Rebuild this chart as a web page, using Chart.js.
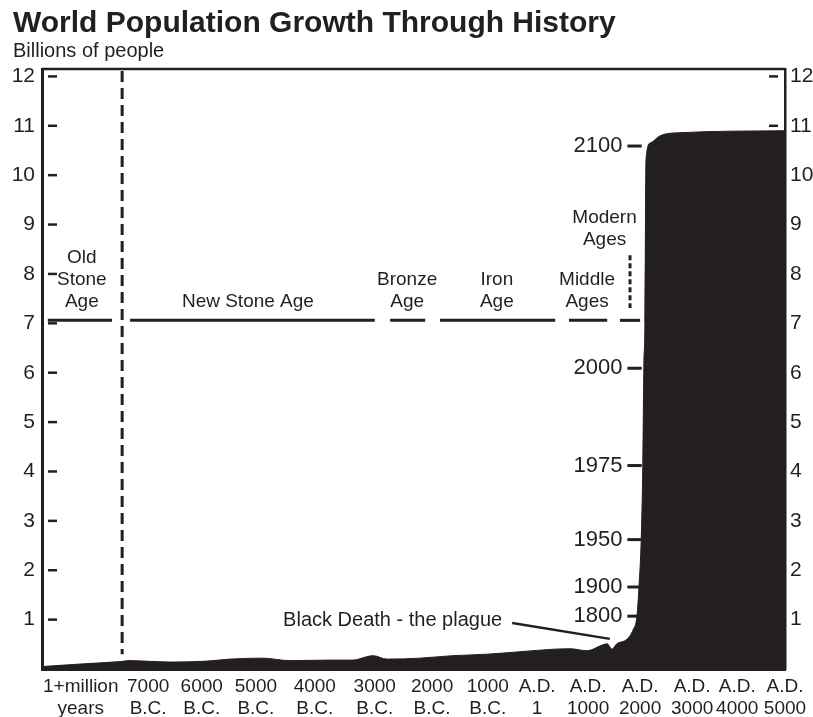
<!DOCTYPE html>
<html>
<head>
<meta charset="utf-8">
<script src="https://cdn.jsdelivr.net/npm/chart.js@4/dist/chart.umd.min.js"></script>
<style>
  body { margin: 0; background: #fff; }
  canvas { display: block; }
</style>
</head>
<body>
<canvas id="myChart" width="813" height="717"></canvas>
<script>
// x axis runs on an "era scale" (not proportional to years), labels sit at tickPos
const tickLabels = [
  ["1+million", "years"], ["7000", "B.C."], ["6000", "B.C."], ["5000", "B.C."],
  ["4000", "B.C."], ["3000", "B.C."], ["2000", "B.C."], ["1000", "B.C."],
  ["A.D.", "1"], ["A.D.", "1000"], ["A.D.", "2000"], ["A.D.", "3000"],
  ["A.D.", "4000"], ["A.D.", "5000"]
];
const tickPos = [0.73, 2.0, 3.01, 4.03, 5.14, 6.27, 7.35, 8.4, 9.33, 10.29, 11.27, 12.25, 13.1, 14.0];

// population curve (billions)
const timeX = [0, 0.72, 1.47, 1.66, 2.41, 3.11, 3.54, 4.16, 4.67, 5.43, 5.86, 6.12, 6.24, 6.5,
  7.12, 7.74, 8.39, 9.01, 9.63, 9.95, 10.27, 10.57, 10.65, 10.74, 10.83, 11.02, 11.14, 11.21,
  11.25, 11.29, 11.32, 11.34, 11.36, 11.38, 11.46, 11.65, 12.02, 14.0];
const popBillions = [0.05, 0.1, 0.15, 0.17, 0.14, 0.16, 0.2, 0.22, 0.17, 0.18, 0.18, 0.25, 0.27, 0.2,
  0.22, 0.27, 0.3, 0.35, 0.4, 0.41, 0.37, 0.49, 0.51, 0.4, 0.51, 0.6, 0.8, 1.07,
  1.7, 2.6, 4.1, 6.1, 7.0, 10.3, 10.65, 10.8, 10.86, 10.9];

// eras
const eraNames = [["Old", "Stone", "Age"], ["New Stone Age"], ["Bronze", "Age"], ["Iron", "Age"], ["Middle", "Ages"], ["Modern", "Ages"]];
const eraStart = [0.11, 1.66, 6.56, 7.5, 9.93, 10.89];
const eraEnd = [1.32, 6.27, 7.22, 9.67, 10.65, 11.27];
const eraLabelX = [0.75, 3.88, 6.88, 8.57, 10.27, 10.6];
const eraLabelY = [7.44, 7.44, 7.44, 7.44, 7.44, 8.7];
const eraLineY = 7.06;
const stoneAgeSplit = 1.51;
const modernSplit = 11.08;

// year marks along the curve
const yearMarks = ["1800", "1900", "1950", "1975", "2000", "2100"];
const yearPop = [1.07, 1.66, 2.62, 4.12, 6.09, 10.59];

const plagueText = "Black Death - the plague";
const plagueLabel = [8.67, 0.99];
const plagueFrom = [8.86, 0.93];
const plagueTo = [10.7, 0.61];

const ink = "#231f20";
Chart.defaults.font.family = "'Liberation Sans', Arial, Helvetica, sans-serif";
Chart.defaults.color = ink;

function drawText(ctx, str, x, y, align, size) {
  ctx.save();
  ctx.font = size + "px 'Liberation Sans', Arial, sans-serif";
  ctx.fillStyle = ink;
  ctx.textAlign = align;
  ctx.textBaseline = "middle";
  ctx.fillText(str, x, y);
  ctx.restore();
}

function line(ctx, x1, y1, x2, y2, w, dash) {
  ctx.save();
  ctx.strokeStyle = ink;
  ctx.lineWidth = w;
  ctx.setLineDash(dash || []);
  ctx.beginPath();
  ctx.moveTo(x1, y1);
  ctx.lineTo(x2, y2);
  ctx.stroke();
  ctx.restore();
}

const decorations = {
  id: "decorations",
  beforeDatasetsDraw(chart) {
    const ctx = chart.ctx, a = chart.chartArea, y = chart.scales.y;
    // little tick dashes inside the frame
    y.ticks.forEach(t => {
      if (t.value < 1) return;
      const py = y.getPixelForValue(t.value);
      line(ctx, a.left + 6, py, a.left + 15, py, 2.5);
      line(ctx, a.right - 16, py, a.right - 7, py, 2.5);
    });
  },
  afterDatasetsDraw(chart) {
    const ctx = chart.ctx, a = chart.chartArea;
    const x = chart.scales.x, y = chart.scales.y;
    // top border of the frame
    line(ctx, a.left, a.top, a.right, a.top, 2.5);

    // era lines and names
    const ly = y.getPixelForValue(eraLineY);
    eraNames.forEach((lines, i) => {
      line(ctx, x.getPixelForValue(eraStart[i]), ly, x.getPixelForValue(eraEnd[i]), ly, 3);
      const cx = x.getPixelForValue(eraLabelX[i]);
      const by = y.getPixelForValue(eraLabelY[i]);
      lines.forEach((s, j) => {
        drawText(ctx, s, cx, by - (lines.length - 1 - j) * 22, "center", 19);
      });
    });
    // dashed split between stone ages
    const sx = x.getPixelForValue(stoneAgeSplit);
    line(ctx, sx, a.top + 2, sx, y.getPixelForValue(0.3), 3, [11, 6]);
    // dotted split middle / modern
    const mx = x.getPixelForValue(modernSplit);
    line(ctx, mx, y.getPixelForValue(8.38), mx, y.getPixelForValue(7.31), 3, [5, 3]);

    // year marks
    const d1 = x.getPixelForValue(11.03), d2 = x.getPixelForValue(11.3);
    yearMarks.forEach((s, i) => {
      const py = y.getPixelForValue(yearPop[i]);
      line(ctx, d1, py, d2, py, 3);
      drawText(ctx, s, d1 - 5, py, "right", 22);
    });

    // plague note
    drawText(ctx, plagueText, x.getPixelForValue(plagueLabel[0]), y.getPixelForValue(plagueLabel[1]), "right", 20);
    line(ctx, x.getPixelForValue(plagueFrom[0]), y.getPixelForValue(plagueFrom[1]),
      x.getPixelForValue(plagueTo[0]), y.getPixelForValue(plagueTo[1]), 2.5);
  }
};

window.onload = function () {
  const ctx = document.getElementById("myChart").getContext("2d");
  const points = timeX.map((t, i) => ({ x: t, y: popBillions[i] }));

  const yTicks = {
    stepSize: 1,
    includeBounds: false,
    font: { size: 21 },
    color: ink,
    callback: v => (v >= 1 ? String(v) : "")
  };

  new Chart(ctx, {
    type: "line",
    data: {
      datasets: [{
        label: "World population",
        data: points,
        borderColor: ink,
        backgroundColor: ink,
        borderWidth: 1,
        pointRadius: 0,
        fill: "origin",
        cubicInterpolationMode: "monotone"
      }]
    },
    options: {
      responsive: false,
      devicePixelRatio: 1,
      animation: false,
      layout: { padding: { left: 13, right: 0, top: 0, bottom: 0 } },
      plugins: {
        legend: { display: false },
        tooltip: { enabled: false },
        title: {
          display: true,
          text: "World Population Growth Through History",
          align: "start",
          color: ink,
          font: { size: 30, weight: "bold" },
          padding: { top: 6, bottom: 0 }
        },
        subtitle: {
          display: true,
          text: "Billions of people",
          align: "start",
          color: ink,
          font: { size: 20 },
          padding: { top: -3, bottom: 6 }
        }
      },
      scales: {
        x: {
          type: "linear",
          min: 0,
          max: 14,
          grid: { display: false, drawTicks: false },
          border: { display: true, width: 3, color: ink },
          afterBuildTicks: axis => { axis.ticks = tickPos.map(v => ({ value: v })); },
          afterFit: axis => { axis.height = 48; },
          ticks: {
            autoSkip: false,
            maxRotation: 0,
            padding: 6,
            font: { size: 19 },
            color: ink,
            callback: (v, i) => tickLabels[i]
          }
        },
        y: {
          position: "left",
          min: 0,
          max: 12.15,
          grid: { display: false, drawTicks: false },
          border: { display: true, width: 3, color: ink },
          afterFit: axis => { axis.width = 29; },
          ticks: Object.assign({ padding: 7 }, yTicks)
        },
        y2: {
          position: "right",
          min: 0,
          max: 12.15,
          grid: { display: false, drawTicks: false },
          border: { display: true, width: 2.5, color: ink },
          afterFit: axis => { axis.width = 28; },
          ticks: Object.assign({ padding: 5 }, yTicks)
        }
      }
    },
    plugins: [decorations]
  });
};
</script>
</body>
</html>
